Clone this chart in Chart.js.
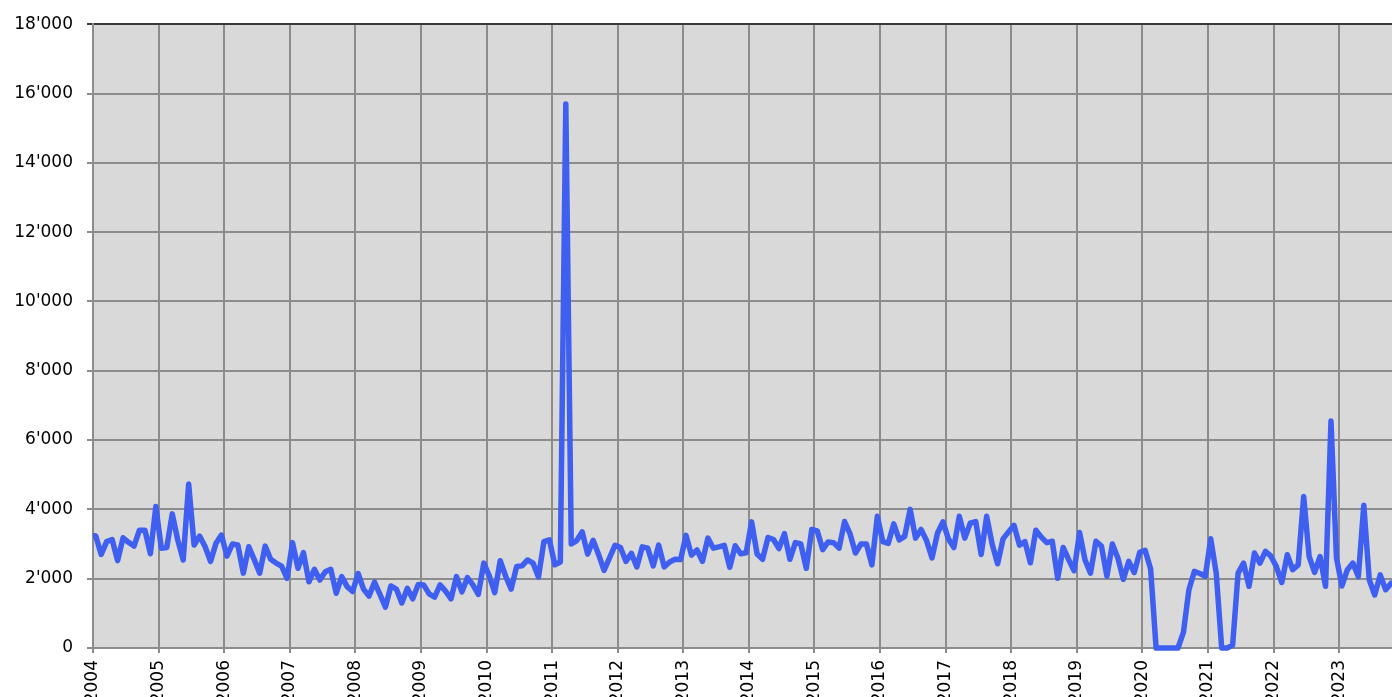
<!DOCTYPE html>
<html>
<head>
<meta charset="utf-8">
<script src="https://cdn.jsdelivr.net/npm/chart.js@4/dist/chart.umd.min.js"></script>
<style>
  html, body { margin: 0; padding: 0; background: #ffffff; }
  canvas { display: block; }
</style>
</head>
<body>
<canvas id="chart" width="1392" height="697"></canvas>
<script>
// monthly values, one array per year (2003 holds only December)
const v2003 = [3260];
const v2004 = [3230, 2700, 3070, 3130, 2520, 3180, 3050, 2940, 3400, 3400, 2720, 4080];
const v2005 = [2880, 2900, 3870, 3120, 2540, 4730, 2970, 3230, 2930, 2500, 3020, 3260];
const v2006 = [2650, 3000, 2970, 2160, 2920, 2550, 2160, 2940, 2560, 2450, 2360, 2010];
const v2007 = [3040, 2300, 2750, 1910, 2270, 1960, 2200, 2270, 1580, 2060, 1770, 1630];
const v2008 = [2150, 1700, 1500, 1900, 1550, 1180, 1790, 1700, 1300, 1720, 1420, 1830];
const v2009 = [1820, 1560, 1470, 1820, 1640, 1420, 2060, 1620, 2030, 1820, 1550, 2450];
const v2010 = [2080, 1600, 2520, 2070, 1700, 2350, 2370, 2540, 2450, 2050, 3070, 3120];
const v2011 = [2400, 2480, 15700, 3000, 3100, 3350, 2710, 3110, 2700, 2240, 2600, 2960];
const v2012 = [2900, 2500, 2730, 2340, 2920, 2880, 2370, 2970, 2340, 2480, 2560, 2550];
const v2013 = [3250, 2680, 2830, 2500, 3170, 2880, 2920, 2960, 2330, 2950, 2720, 2750];
const v2014 = [3640, 2710, 2560, 3190, 3130, 2870, 3300, 2560, 3040, 3000, 2300, 3420];
const v2015 = [3380, 2840, 3060, 3040, 2880, 3650, 3300, 2740, 3000, 3000, 2400, 3800];
const v2016 = [3070, 3020, 3580, 3120, 3220, 4000, 3170, 3420, 3100, 2600, 3310, 3640];
const v2017 = [3150, 2900, 3800, 3170, 3600, 3650, 2700, 3800, 3000, 2430, 3150, 3350];
const v2018 = [3540, 2970, 3070, 2460, 3400, 3200, 3040, 3080, 2010, 2900, 2550, 2230];
const v2019 = [3330, 2540, 2160, 3080, 2940, 2070, 3000, 2600, 1980, 2500, 2180, 2760];
const v2020 = [2820, 2280, 0, 0, 0, 0, 0, 450, 1680, 2210, 2150, 2070];
const v2021 = [3150, 2160, 0, 0, 80, 2160, 2450, 1780, 2740, 2450, 2790, 2650];
const v2022 = [2350, 1890, 2690, 2260, 2400, 4370, 2640, 2180, 2640, 1780, 6550, 2600];
const v2023 = [1790, 2260, 2450, 2060, 4120, 1970, 1530, 2110, 1680, 1870];

const yearLabels = ['2004', '2005', '2006', '2007', '2008', '2009', '2010', '2011', '2012', '2013',
  '2014', '2015', '2016', '2017', '2018', '2019', '2020', '2021', '2022', '2023'];
const yTicks = [0, 2000, 4000, 6000, 8000, 10000, 12000, 14000, 16000, 18000];

const monthly = [].concat(v2004, v2005, v2006, v2007, v2008, v2009, v2010, v2011, v2012,
  v2013, v2014, v2015, v2016, v2017, v2018, v2019, v2020, v2021, v2022, v2023);

// x is months since Jan 2004, each value sits mid-month
const points = [{ x: -0.5, y: v2003[0] }].concat(monthly.map((v, i) => ({ x: i + 0.5, y: v })));

const plotBackground = {
  id: 'plotBackground',
  beforeDraw(chart) {
    const { ctx, chartArea } = chart;
    ctx.save();
    ctx.fillStyle = '#d9d9d9';
    ctx.fillRect(chartArea.left, chartArea.top, chartArea.right - chartArea.left, chartArea.bottom - chartArea.top);
    ctx.restore();
  }
};

Chart.defaults.font.family = '"DejaVu Sans", sans-serif';
Chart.defaults.font.size = 17;
Chart.defaults.color = '#000000';

const gridGray = '#8c8c8c';

new Chart(document.getElementById('chart'), {
  type: 'line',
  data: {
    datasets: [{
      data: points,
      borderColor: '#3e5ff0',
      backgroundColor: '#3e5ff0',
      borderWidth: 5.5,
      borderJoinStyle: 'round',
      borderCapStyle: 'round',
      pointRadius: 0,
      tension: 0,
      clip: { left: 0, right: 0, top: false, bottom: false }
    }]
  },
  options: {
    responsive: false,
    animation: false,
    parsing: false,
    layout: { padding: { top: 23, left: 0, right: 0, bottom: 0 } },
    plugins: {
      legend: { display: false },
      tooltip: { enabled: false }
    },
    scales: {
      x: {
        type: 'linear',
        min: 0,
        max: 237.66,
        afterBuildTicks: (scale) => {
          scale.ticks = yearLabels.map((_, i) => ({ value: i * 12 }));
        },
        afterFit: (scale) => { scale.height = 49; },
        ticks: {
          autoSkip: false,
          minRotation: 90,
          maxRotation: 90,
          padding: 7,
          callback: (v) => yearLabels[Math.round(v / 12)]
        },
        grid: { color: gridGray, lineWidth: 2, tickLength: 5 },
        border: { color: gridGray, width: 2 }
      },
      y: {
        min: 0,
        max: 18000,
        afterBuildTicks: (scale) => {
          scale.ticks = yTicks.map(v => ({ value: v }));
        },
        afterFit: (scale) => { scale.width = 93; },
        ticks: {
          padding: 14,
          callback: (v) => v === 0 ? '0' : (v / 1000) + "'000"
        },
        grid: {
          color: (ctx) => ctx.tick && ctx.tick.value === 18000 ? '#3a3a3a' : gridGray,
          lineWidth: 2,
          tickLength: 6
        },
        border: { color: gridGray, width: 2 }
      }
    }
  },
  plugins: [plotBackground]
});
</script>
</body>
</html>
